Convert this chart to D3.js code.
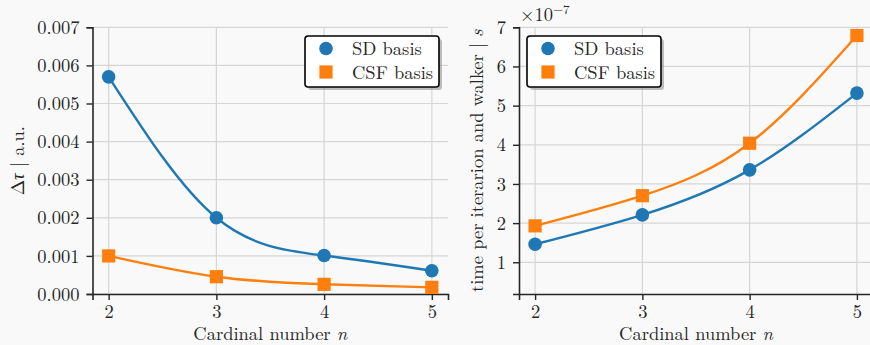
<!DOCTYPE html>
<html>
<head>
<meta charset="utf-8">
<script src="https://cdn.jsdelivr.net/npm/d3@7"></script>
<style>
  html, body { margin: 0; padding: 0; background: #f9f9f9; }
  svg { display: block; }
</style>
</head>
<body>
<svg id="chart" width="870" height="345"></svg>
<script>
// Cardinal numbers on the x axis
const cardinal = [2, 3, 4, 5];

// Left panel: time step Δτ (a.u.)
const dtauSD  = [0.0057, 0.0020, 0.00101, 0.00061];
const dtauCSF = [0.00100, 0.000454, 0.000254, 0.000175];
const dtauTicks = [0, 0.001, 0.002, 0.003, 0.004, 0.005, 0.006, 0.007];

// Right panel: time per iteration and walker (units of 1e-7 s)
const timeSD  = [1.46, 2.21, 3.36, 5.32];
const timeCSF = [1.93, 2.70, 4.04, 6.79];
const timeTicks = [1, 2, 3, 4, 5, 6, 7];

const seriesNames = ["SD basis", "CSF basis"];
const colors = ["#1f77b4", "#ff7f0e"];

const FONT = '"Latin Modern Roman", "Liberation Serif", serif';
const FS = 18.5;
const INK = "#262626";
const svg = d3.select("#chart");
const W = 870, H = 345;

svg.append("rect").attr("width", W).attr("height", H).attr("fill", "#f9f9f9");

function panel(opts) {
  const g = svg.append("g");
  const x = d3.scaleLinear().domain([1.85, 5.15]).range([opts.x0, opts.x1]);
  const y = d3.scaleLinear().domain(opts.yDomain).range([opts.y1, opts.y0]);

  // clip so curves / markers stay inside the plotting area
  const clipId = "clip" + opts.id;
  svg.append("clipPath").attr("id", clipId)
    .append("rect").attr("x", opts.x0).attr("y", opts.y0 - 10)
    .attr("width", opts.x1 - opts.x0 + 10).attr("height", opts.y1 - opts.y0 + 10);

  // grid
  const grid = g.append("g");
  grid.selectAll("line.h").data(opts.yTicks).join("line")
    .attr("x1", opts.x0).attr("x2", opts.x1)
    .attr("y1", d => y(d)).attr("y2", d => y(d))
    .attr("stroke", "#d6d6d6").attr("stroke-width", 1.2);
  grid.selectAll("line.v").data(cardinal).join("line")
    .attr("x1", d => x(d)).attr("x2", d => x(d))
    .attr("y1", opts.y0).attr("y2", opts.y1)
    .attr("stroke", "#d6d6d6").attr("stroke-width", 1.2);

  // axes
  const xAxis = g.append("g").attr("transform", `translate(0,${opts.y1})`)
    .call(d3.axisBottom(x).tickValues(cardinal).tickFormat(d3.format("d")).tickSizeOuter(0).tickSize(6).tickPadding(4));
  const yAxis = g.append("g").attr("transform", `translate(${opts.x0},0)`)
    .call(d3.axisLeft(y).tickValues(opts.yTicks).tickFormat(opts.fmt).tickSizeOuter(0).tickSize(6).tickPadding(7));
  [xAxis, yAxis].forEach(a => {
    a.select(".domain").attr("stroke", INK).attr("stroke-width", 1.6);
    a.selectAll(".tick line").attr("stroke", INK).attr("stroke-width", 1.4);
    a.selectAll(".tick text").attr("fill", INK)
      .style("font-family", FONT).style("font-size", FS + "px");
  });
  xAxis.selectAll(".tick text").attr("dy", "0.75em");
  yAxis.selectAll(".tick text").attr("dy", "0.33em");

  // lines and markers
  const plot = g.append("g").attr("clip-path", `url(#${clipId})`);
  const line = d3.line().x((d, i) => x(cardinal[i])).y(d => y(d)).curve(d3.curveNatural);
  opts.series.forEach((vals, k) => {
    plot.append("path").datum(vals).attr("d", line)
      .attr("fill", "none").attr("stroke", colors[k]).attr("stroke-width", 2.4);
  });
  plot.selectAll("circle").data(opts.series[0]).join("circle")
    .attr("cx", (d, i) => x(cardinal[i])).attr("cy", d => y(d)).attr("r", 6.8)
    .attr("fill", colors[0]);
  plot.selectAll("rect.sq").data(opts.series[1]).join("rect").attr("class", "sq")
    .attr("x", (d, i) => x(cardinal[i]) - 6.6).attr("y", d => y(d) - 6.6)
    .attr("width", 13.2).attr("height", 13.2).attr("fill", colors[1]);

  // x label
  const xl = g.append("text").attr("x", (opts.x0 + opts.x1) / 2).attr("y", 340)
    .attr("text-anchor", "middle").attr("fill", INK)
    .style("font-family", FONT).style("font-size", FS + "px");
  xl.append("tspan").text("Cardinal number ");
  xl.append("tspan").style("font-style", "italic").text("n");

  // y label
  const yl = g.append("text")
    .attr("transform", `translate(${opts.yLabelX},${(opts.y0 + opts.y1) / 2}) rotate(-90)`)
    .attr("text-anchor", "middle").attr("fill", INK)
    .style("font-family", FONT).style("font-size", FS + "px");
  opts.yLabel.forEach(p => {
    const t = yl.append("tspan").text(p.t);
    if (p.it) t.style("font-style", "italic");
  });

  // legend
  const lg = g.append("g").attr("transform", `translate(${opts.legX},36)`);
  lg.append("rect").attr("x", 3).attr("y", 3).attr("width", 134).attr("height", 51)
    .attr("rx", 3).attr("fill", "#8c8c8c").attr("opacity", 0.55);
  lg.append("rect").attr("x", 0).attr("y", 0).attr("width", 134).attr("height", 51)
    .attr("rx", 3).attr("fill", "#ffffff").attr("stroke", "#000").attr("stroke-width", 1.6);
  lg.append("circle").attr("cx", 21).attr("cy", 12.5).attr("r", 6.8).attr("fill", colors[0]);
  lg.append("rect").attr("x", 21 - 6.6).attr("y", 36 - 6.6).attr("width", 13.2).attr("height", 13.2).attr("fill", colors[1]);
  seriesNames.forEach((s, k) => {
    lg.append("text").attr("x", 47).attr("y", 18.5 + k * 24).attr("fill", INK)
      .style("font-family", FONT).style("font-size", FS + "px").text(s);
  });
  return { x, y, g };
}

panel({
  id: "L", x0: 92.5, x1: 448, y0: 27.3, y1: 294,
  yDomain: [0, 0.007], yTicks: dtauTicks, fmt: d3.format(".3f"),
  series: [dtauSD, dtauCSF],
  yLabelX: 24,
  yLabel: [{ t: "Δ" }, { t: "τ", it: true }, { t: " | a.u." }],
  legX: 305
});

panel({
  id: "R", x0: 519, x1: 873, y0: 27.3, y1: 294,
  yDomain: [0.19, 7], yTicks: timeTicks, fmt: d3.format("d"),
  series: [timeSD, timeCSF],
  yLabelX: 483,
  yLabel: [{ t: "time per iterarion and walker | " }, { t: "s", it: true }],
  legX: 527
});

// scale factor shown above the right y axis
const off = svg.append("text").attr("x", 520).attr("y", 21).attr("fill", INK)
  .style("font-family", FONT).style("font-size", FS + "px");
off.append("tspan").text("×10");
off.append("tspan").style("font-size", "13px").attr("dy", -7).text("−7");
</script>
</body>
</html>
